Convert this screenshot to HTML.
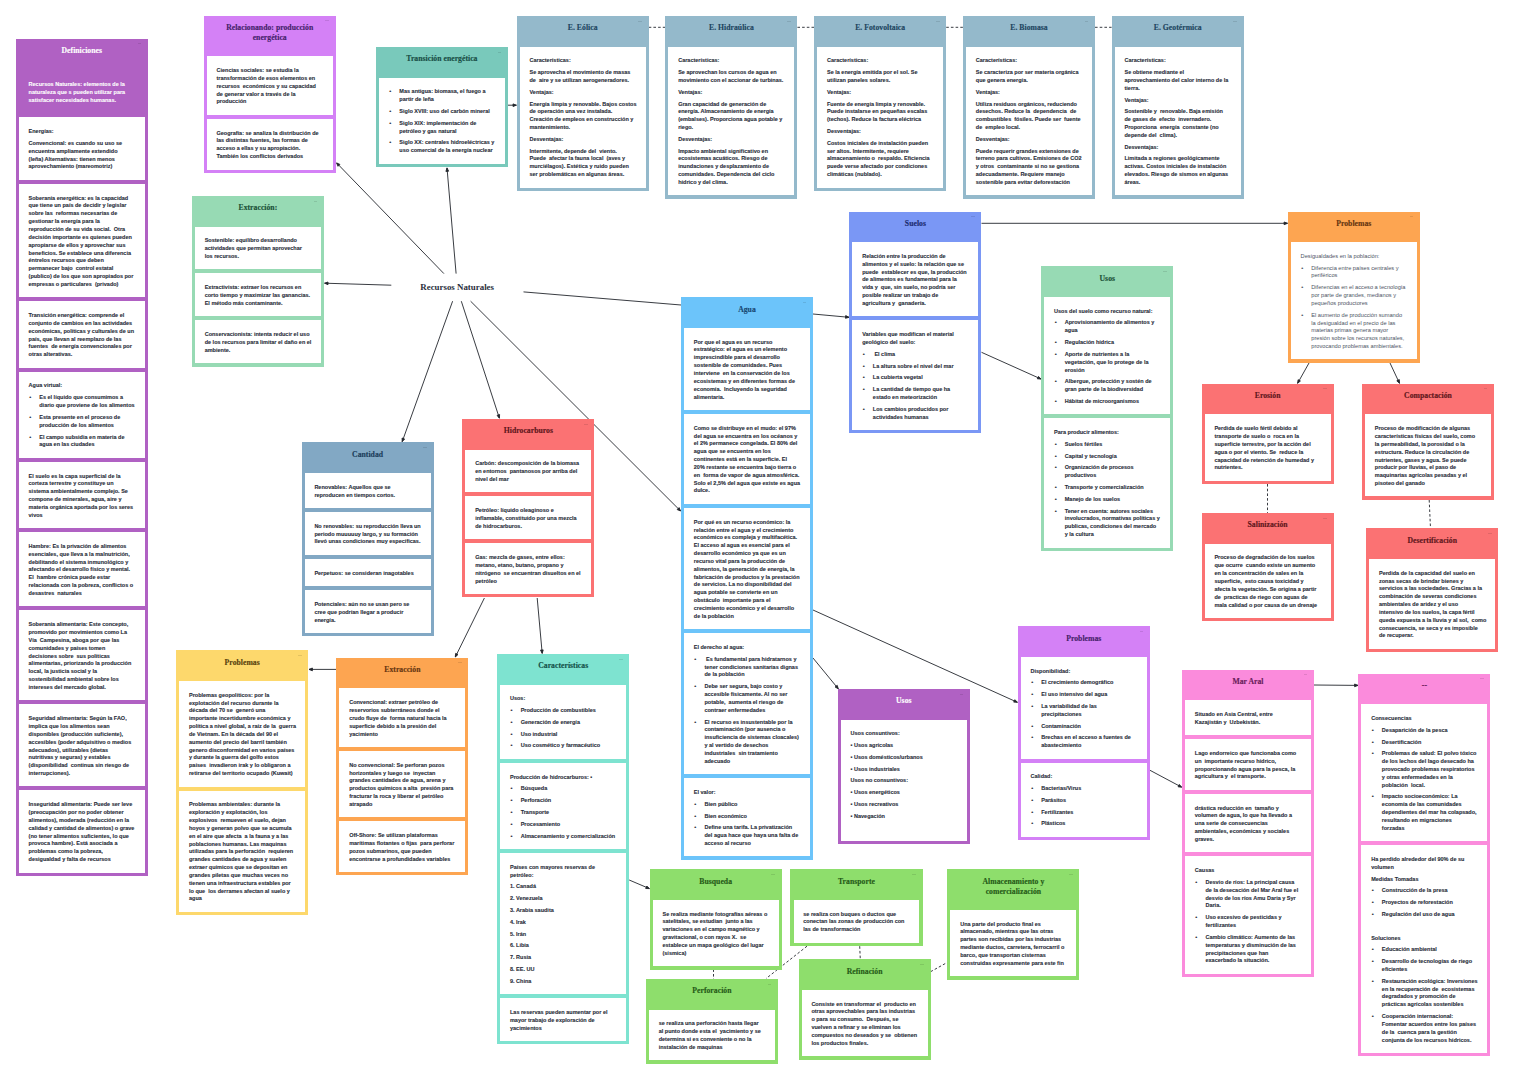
<!DOCTYPE html><html lang="es"><head><meta charset="utf-8"><title>Recursos Naturales</title><style>
html,body{margin:0;padding:0;background:#fff}
body{width:1514px;height:1080px;position:relative;overflow:hidden;font-family:"Liberation Sans",sans-serif}
.card{position:absolute;width:132.2px;box-sizing:border-box;padding:0 3.2px 3.4px;color:#272c38}
.hd{box-sizing:border-box;min-height:30.6px;padding:7.4px 0 13.1px;text-align:center;font:bold 7.7px/10.05px "Liberation Serif",serif;color:rgba(24,28,44,.82);position:relative;white-space:nowrap;-webkit-text-stroke:.14px currentColor;letter-spacing:.03px}
.hd:after{content:"";position:absolute;right:3.6px;top:4.6px;width:3.6px;height:.7px;background:rgba(0,0,0,.1)}
.wt .hd{color:#fff}
.bx{background:#fff;padding:10.75px 9.7px 8.55px;margin-top:4.05px;font-weight:bold;font-size:5.5px;line-height:7.844px;white-space:nowrap;overflow:hidden;-webkit-text-stroke:.1px currentColor}
.hd+.bx{margin-top:0}
.bx.tr{background:transparent;color:#fff;padding-top:11.75px}
.light .bx{-webkit-text-stroke:0;font-weight:normal;color:#4e5565;font-size:5.68px}
p,ul,li{margin:0;padding:0;list-style:none}
p,li{margin-bottom:3.95px}
.bx>:last-child,.bx>ul:last-child>li:last-child{margin-bottom:0}
li{padding-left:10.7px;position:relative}
li:before{content:"•";display:inline-block;box-sizing:border-box;width:10.7px;margin-left:-10.7px;padding-left:.6px;font-size:5.7px;line-height:0;font-weight:normal;-webkit-text-stroke:.2px currentColor}
svg{position:absolute;left:0;top:0}
.c{position:absolute;left:420.3px;top:280.6px;font:bold 8.9px/12px "Liberation Serif",serif;color:#2b2f3d;white-space:nowrap}
</style></head><body>
<svg width="1514" height="1080" viewBox="0 0 1514 1080" fill="#23262c" stroke="#23262c" stroke-width=".9"><line x1="443.9" y1="273.6" x2="336.6" y2="162.9"/><polygon points="336.6,162.9 339.9,164.4 338.0,166.3"/><line x1="456.1" y1="273.6" x2="447.0" y2="167.9"/><polygon points="447.0,167.9 448.6,171.2 445.9,171.4"/><line x1="391.3" y1="285.2" x2="324.6" y2="283.2"/><polygon points="324.6,283.2 328.0,282.0 328.0,284.7"/><line x1="452.6" y1="301.2" x2="402.2" y2="441.7"/><polygon points="402.2,441.7 402.1,438.0 404.6,439.0"/><line x1="461.3" y1="301.2" x2="499.4" y2="418.2"/><polygon points="499.4,418.2 497.1,415.4 499.6,414.5"/><line x1="470.6" y1="301.2" x2="680.6" y2="511.0"/><polygon points="680.6,511.0 677.2,509.6 679.1,507.6"/><line x1="523.5" y1="291.9" x2="681.0" y2="305.0"/><line x1="813.0" y1="314.0" x2="849.0" y2="317.3"/><polygon points="849.0,317.3 845.5,318.3 845.7,315.6"/><line x1="813.0" y1="610.0" x2="1017.4" y2="702.3"/><polygon points="1017.4,702.3 1013.7,702.1 1014.9,699.7"/><line x1="813.0" y1="658.0" x2="838.3" y2="688.8"/><polygon points="838.3,688.8 835.1,687.0 837.2,685.3"/><line x1="981.5" y1="223.3" x2="1287.5" y2="223.3"/><polygon points="1287.5,223.3 1284.1,224.7 1284.1,222.0"/><line x1="981.5" y1="352.3" x2="1041.0" y2="379.0"/><polygon points="1041.0,379.0 1037.3,378.8 1038.5,376.4"/><line x1="1309.0" y1="363.0" x2="1297.6" y2="383.3"/><polygon points="1297.6,383.3 1298.1,379.7 1300.4,381.0"/><line x1="1390.0" y1="363.0" x2="1399.5" y2="383.3"/><polygon points="1399.5,383.3 1396.8,380.8 1399.3,379.6"/><line x1="1150.0" y1="770.3" x2="1181.7" y2="787.2"/><polygon points="1181.7,787.2 1178.1,786.8 1179.3,784.4"/><line x1="1314.0" y1="685.0" x2="1358.0" y2="685.4"/><polygon points="1358.0,685.4 1354.6,686.7 1354.6,684.0"/><line x1="508.0" y1="105.2" x2="516.4" y2="105.2"/><polygon points="516.4,105.2 513.0,106.5 513.0,103.9"/><line x1="484.4" y1="598.0" x2="455.3" y2="657.0"/><polygon points="455.3,657.0 455.6,653.4 458.0,654.5"/><line x1="537.2" y1="598.0" x2="542.2" y2="653.4"/><polygon points="542.2,653.4 540.5,650.1 543.2,649.9"/><line x1="336.0" y1="669.4" x2="309.0" y2="669.4"/><polygon points="309.0,669.4 312.4,668.0 312.4,670.8"/><line x1="629.2" y1="880.0" x2="649.4" y2="888.6"/><polygon points="649.4,888.6 645.7,888.5 646.8,886.0"/><line x1="648.7" y1="27.3" x2="665.3" y2="27.3" stroke-dasharray="2.6 2.1"/><line x1="797.4" y1="27.3" x2="814.1" y2="27.3" stroke-dasharray="2.6 2.1"/><line x1="946.2" y1="27.3" x2="962.9" y2="27.3" stroke-dasharray="2.6 2.1"/><line x1="1095.0" y1="27.3" x2="1111.6" y2="27.3" stroke-dasharray="2.6 2.1"/><line x1="1267.5" y1="484.0" x2="1267.5" y2="513.0" stroke-dasharray="2.6 2.1"/><line x1="1429.2" y1="500.0" x2="1430.5" y2="528.4" stroke-dasharray="2.6 2.1"/><line x1="713.5" y1="969.3" x2="713.5" y2="979.1" stroke-dasharray="2.6 2.1"/><line x1="807.0" y1="946.2" x2="766.0" y2="978.6" stroke-dasharray="2.6 2.1"/><line x1="859.7" y1="946.2" x2="860.3" y2="959.3" stroke-dasharray="2.6 2.1"/><line x1="930.6" y1="971.7" x2="947.3" y2="962.4" stroke-dasharray="2.6 2.1"/></svg>
<div class="c">Recursos Naturales</div>
<div class="card wt" style="left:15.7px;top:38.9px;background:#b061c3"><div class="hd" style="color:#ffffff">Definiciones</div><div class="bx tr"><p>Recursos Naturales: elementos de la<br>naturaleza que s pueden utilizar para<br>satisfacer necesidades humanas.</p></div><div class="bx"><p>Energías:</p><p>Convencional: es cuando su uso se<br>encuentra ampliamente extendido<br>(leña) Alternativas: tienen menos<br>aprovechamiento (mareomotriz)</p></div><div class="bx"><p>Soberanía energética: es la capacidad<br>que tiene un país de decidir y legislar<br>sobre las  reformas necesarias de<br>gestionar la energía para la<br>reproducción de su vida social.  Otra<br>decisión importante es quienes pueden<br>apropiarse de ellos y aprovechar sus<br>beneficios. Se establece una diferencia<br>éntrelos recursos que deben<br>permanecer bajo  control estatal<br>(publico) de los que son apropiados por<br>empresas o particulares  (privado)</p></div><div class="bx"><p>Transición energética: comprende el<br>conjunto de cambios en las actividades<br>económicas, políticas y culturales de un<br>país, que llevan al reemplazo de las<br>fuentes  de energía convencionales por<br>otras alterativas.</p></div><div class="bx"><p>Agua virtual:</p><ul><li>Es el líquido que consumimos a<br>diario que proviene de los alimentos</li><li>Esta presente en el proceso de<br>producción de los alimentos</li><li>El campo subsidia en materia de<br>agua en las ciudades</li></ul></div><div class="bx"><p>El suelo es la capa superficial de la<br>corteza terrestre y constituye un<br>sistema ambientalmente complejo. Se<br>compone de minerales, agua, aire y<br>materia orgánica aportada por los seres<br>vivos</p></div><div class="bx"><p>Hambre: Es la privación de alimentos<br>esenciales, que lleva a la malnutrición,<br>debilitando el sistema inmunológico y<br>afectando el desarrollo físico y mental.<br>El  hambre crónica puede estar<br>relacionada con la pobreza, conflictos o<br>desastres  naturales</p></div><div class="bx"><p>Soberanía alimentaria: Este concepto,<br>promovido por movimientos como La<br>Vía  Campesina, aboga por que las<br>comunidades y países tomen<br>decisiones sobre  sus políticas<br>alimentarias, priorizando la producción<br>local, la justicia social y la<br>sostenibilidad ambiental sobre los<br>intereses del mercado global.</p></div><div class="bx"><p>Seguridad alimentaria: Según la FAO,<br>implica que los alimentos sean<br>disponibles (producción suficiente),<br>accesibles (poder adquisitivo o medios<br>adecuados), utilizables (dietas<br>nutritivas y seguras) y estables<br>(disponibilidad  continua sin riesgo de<br>interrupciones).</p></div><div class="bx"><p>Inseguridad alimentaria: Puede ser leve<br>(preocupación por no poder obtener<br>alimentos), moderada (reducción en la<br>calidad y cantidad de alimentos) o grave<br>(no tener alimentos suficientes, lo que<br>provoca hambre). Está asociada a<br>problemas como la pobreza,<br>desigualdad y falta de recursos</p></div></div>
<div class="card" style="left:203.6px;top:15.7px;background:#d481f6"><div class="hd" style="color:#451f6b">Relacionando: producción<br>energética</div><div class="bx"><p>Ciencias sociales: se estudia la<br>transformación de esos elementos en<br>recursos  económicos y su capacidad<br>de generar valor a través de la<br>producción</p></div><div class="bx"><p>Geografía: se analiza la distribución de<br>las distintas fuentes, las formas de<br>acceso a ellas y su apropiación.<br>También los conflictos derivados</p></div></div>
<div class="card" style="left:375.8px;top:47.0px;background:#79c9bb"><div class="hd" style="color:#184d45">Transición energética</div><div class="bx"><ul><li>Mas antigua: biomasa, el fuego a<br>partir de leña</li><li>Siglo XVIII: uso del carbón mineral</li><li>Siglo XIX: implementación de<br>petróleo y gas natural</li><li>Siglo XX: centrales hidroeléctricas y<br>uso comercial de la energía nuclear</li></ul></div></div>
<div class="card" style="left:516.6px;top:16.0px;background:#94b9cb"><div class="hd" style="color:#1d4560">E. Eólica</div><div class="bx"><p>Características:</p><p>Se aprovecha el movimiento de masas<br>de  aire y se utilizan aerogeneradores.</p><p>Ventajas:</p><p>Energía limpia y renovable. Bajos costos<br>de operación una vez instalada.<br>Creación de empleos en construcción y<br>mantenimiento.</p><p>Desventajas:</p><p>Intermitente, depende del  viento.<br>Puede  afectar la fauna local  (aves y<br>murciélagos). Estética y ruido pueden<br>ser problemáticas en algunas áreas.</p></div></div>
<div class="card" style="left:665.3px;top:16.0px;background:#94b9cb"><div class="hd" style="color:#1d4560">E. Hidraúlica</div><div class="bx"><p>Características:</p><p>Se aprovechan los cursos de agua en<br>movimiento con el accionar de turbinas.</p><p>Ventajas:</p><p>Gran capacidad de generación de<br>energía. Almacenamiento de energía<br>(embalses). Proporciona agua potable y<br>riego.</p><p>Desventajas:</p><p>Impacto ambiental significativo en<br>ecosistemas acuáticos. Riesgo de<br>inundaciones y desplazamiento de<br>comunidades. Dependencia del ciclo<br>hídrico y del clima.</p></div></div>
<div class="card" style="left:814.1px;top:16.0px;background:#94b9cb"><div class="hd" style="color:#1d4560">E. Fotovoltaica</div><div class="bx"><p>Características:</p><p>Se la energía emitida por el sol. Se<br>utilizan paneles solares.</p><p>Ventajas:</p><p>Fuente de energía limpia y renovable.<br>Puede instalarse en pequeñas escalas<br>(techos). Reduce la factura eléctrica</p><p>Desventajas:</p><p>Costos iniciales de instalación pueden<br>ser altos. Intermitente, requiere<br>almacenamiento o  respaldo. Eficiencia<br>puede verse afectado por condiciones<br>climáticas (nublado).</p></div></div>
<div class="card" style="left:962.9px;top:16.0px;background:#94b9cb"><div class="hd" style="color:#1d4560">E. Biomasa</div><div class="bx"><p>Características:</p><p>Se caracteriza por ser materia orgánica<br>que genera energía.</p><p>Ventajas:</p><p>Utiliza residuos orgánicos, reduciendo<br>desechos. Reduce la  dependencia  de<br>combustibles  fósiles. Puede ser  fuente<br>de  empleo local.</p><p>Desventajas:</p><p>Puede requerir grandes extensiones de<br>terreno para cultivos. Emisiones de CO2<br>y otros  contaminante si no se gestiona<br>adecuadamente. Requiere manejo<br>sostenible para evitar deforestación</p></div></div>
<div class="card" style="left:1111.6px;top:16.0px;background:#94b9cb"><div class="hd" style="color:#1d4560">E. Geotérmica</div><div class="bx"><p>Características:</p><p>Se obtiene mediante el<br>aprovechamiento del calor interno de la<br>tierra.</p><p>Ventajas:</p><p>Sostenible y  renovable. Baja emisión<br>de gases de  efecto  invernadero.<br>Proporciona  energía  constante (no<br>depende del  clima).</p><p>Desventajas:</p><p>Limitada a regiones geológicamente<br>activas. Costos iniciales de instalación<br>elevados. Riesgo de sismos en algunas<br>áreas.</p></div></div>
<div class="card" style="left:191.8px;top:196.0px;background:#97dab4"><div class="hd" style="color:#1a5037">Extracción:</div><div class="bx"><p>Sostenible: equilibro desarrollando<br>actividades que permitan aprovechar<br>los recursos.</p></div><div class="bx"><p>Extractivista: extraer los recursos en<br>corto tiempo y maximizar las ganancias.<br>El método más contaminante.</p></div><div class="bx"><p>Conservacionista: intenta reducir el uso<br>de los recursos para limitar el daño en el<br>ambiente.</p></div></div>
<div class="card" style="left:301.5px;top:442.4px;background:#82a8c4"><div class="hd" style="color:#1b3d5b">Cantidad</div><div class="bx"><p>Renovables: Aquellos que se<br>reproducen en tiempos cortos.</p></div><div class="bx"><p>No renovables: su reproducción lleva un<br>periodo muuuuuy largo, y su formación<br>llevó unas condiciones muy específicas.</p></div><div class="bx"><p>Perpetuos: se consideran inagotables</p></div><div class="bx"><p>Potenciales: aún no se usan pero se<br>cree que podrían llegar a producir<br>energía.</p></div></div>
<div class="card" style="left:462.3px;top:419.0px;background:#fb7273"><div class="hd" style="color:#5e161b">Hidrocarburos</div><div class="bx"><p>Carbón: descomposición de la biomasa<br>en entornos  pantanosos por arriba del<br>nivel del mar</p></div><div class="bx"><p>Petróleo: líquido oleaginoso e<br>inflamable, constituido por una mezcla<br>de hidrocarburos.</p></div><div class="bx"><p>Gas: mezcla de gases, entre ellos:<br>metano, etano, butano, propano y<br>nitrógeno  se encuentran disueltos en el<br>petróleo</p></div></div>
<div class="card" style="left:680.9px;top:297.3px;background:#6cc4fa"><div class="hd" style="color:#174872">Agua</div><div class="bx"><p>Por que el agua es un recurso<br>estratégico: el agua es un elemento<br>imprescindible para el desarrollo<br>sostenible de comunidades. Pues<br>interviene  en la conservación de los<br>ecosistemas y en diferentes formas de<br>economía.  Incluyendo la seguridad<br>alimentaria.</p></div><div class="bx"><p>Como se distribuye en el mudo: el 97%<br>del agua se encuentra en los océanos y<br>el 2% permanece congelada. El 80% del<br>agua que se encuentra en los<br>continentes está en la superficie. El<br>20% restante se encuentra bajo tierra o<br>en  forma de vapor de agua atmosférica.<br>Solo el 2,5% del agua que existe es agua<br>dulce.</p></div><div class="bx"><p>Por qué es un recurso económico: la<br>relación entre el agua y el crecimiento<br>económico es compleja y multifacética.<br>El acceso al agua es esencial para el<br>desarrollo económico ya que es un<br>recurso vital para la producción de<br>alimentos, la generación de energía, la<br>fabricación de productos y la prestación<br>de servicios. La no disponibilidad del<br>agua potable se convierte en un<br>obstáculo  importante para el<br>crecimiento económico y el desarrollo<br>de la población</p></div><div class="bx"><p>El derecho al agua:</p><ul><li> Es fundamental para hidratarnos y<br>tener condiciones sanitarias dignas<br>de la población</li><li>Debe ser segura, bajo costo y<br>accesible físicamente. Al no ser<br>potable,  aumenta el riesgo de<br>contraer enfermedades</li><li>El recurso es insustentable por la<br>contaminación (por ausencia o<br>insuficiencia de sistemas cloacales)<br>y al vertido de desechos<br>industriales  sin tratamiento<br>adecuado</li></ul></div><div class="bx"><p>El valor:</p><ul><li>Bien público</li><li>Bien económico</li><li>Define una tarifa. La privatización<br>del agua hace que haya una falta de<br>acceso al recurso</li></ul></div></div>
<div class="card" style="left:849.3px;top:211.6px;background:#7a97f5"><div class="hd" style="color:#1c2c70">Suelos</div><div class="bx"><p>Relación entre la producción de<br>alimentos y el suelo: la relación que se<br>puede  establecer es que, la producción<br>de alimentos es fundamental para la<br>vida y  que, sin suelo, no podría ser<br>posible realizar un trabajo de<br>agricultura y  ganadería.</p></div><div class="bx"><p>Variables que modifican el material<br>geológico del suelo:</p><ul><li> El clima</li><li>La altura sobre el nivel del mar</li><li>La cubierta vegetal</li><li>La cantidad de tiempo que ha<br>estado en meteorización</li><li>Los cambios producidos por<br>actividades humanas</li></ul></div></div>
<div class="card" style="left:1041.2px;top:266.3px;background:#97dab4"><div class="hd" style="color:#1a5037">Usos</div><div class="bx"><p>Usos del suelo como recurso natural:</p><ul><li>Aprovisionamiento de alimentos y<br>agua</li><li>Regulación hídrica</li><li>Aporte de nutrientes a la<br>vegetación, que lo protege de la<br>erosión</li><li>Albergue, protección y sostén de<br>gran parte de la biodiversidad</li><li>Hábitat de microorganismos</li></ul></div><div class="bx"><p>Para producir alimentos:</p><ul><li>Suelos fértiles</li><li>Capital y tecnología</li><li>Organización de procesos<br>productivos</li><li>Transporte y comercialización</li><li>Manejo de los suelos</li><li>Tener en cuenta: autores sociales<br>involucrados, normativas políticas y<br>publicas, condiciones del mercado<br>y la cultura</li></ul></div></div>
<div class="card light" style="left:1287.7px;top:211.5px;background:#fda551"><div class="hd" style="color:#653510">Problemas</div><div class="bx"><p>Desigualdades en la población:</p><ul><li>Diferencia entre países centrales y<br>periféricos</li><li>Diferencias en el acceso a tecnología<br>por parte de grandes, medianos y<br>pequeños productores</li><li>El aumento de producción sumando<br>la desigualdad en el precio de las<br>materias primas genera mayor<br>presión sobre los recursos naturales,<br>provocando problemas ambientales.</li></ul></div></div>
<div class="card" style="left:1201.5px;top:383.8px;background:#fb7273"><div class="hd" style="color:#5e161b">Erosión</div><div class="bx"><p>Perdida de suelo fértil debido al<br>transporte de suelo o  roca en la<br>superficie terrestre, por la acción del<br>agua o por el viento. Se  reduce la<br>capacidad de retención de humedad y<br>nutrientes.</p></div></div>
<div class="card" style="left:1361.9px;top:383.8px;background:#fb7273"><div class="hd" style="color:#5e161b">Compactación</div><div class="bx"><p>Proceso de modificación de algunas<br>características físicas del suelo, como<br>la permeabilidad, la porosidad o la<br>estructura. Reduce la circulación de<br>nutrientes, gases y agua. Se puede<br>producir por lluvias, el paso de<br>maquinarias agrícolas pesadas y el<br>pisoteo del ganado</p></div></div>
<div class="card" style="left:1201.5px;top:513.1px;background:#fb7273"><div class="hd" style="color:#5e161b">Salinización</div><div class="bx"><p>Proceso de degradación de los suelos<br>que ocurre  cuando existe un aumento<br>en la concentración de sales en la<br>superficie,  esto causa toxicidad y<br>afecta la vegetación. Se origina a partir<br>de  practicas de riego con aguas de<br>mala calidad o por causa de un drenaje</p></div></div>
<div class="card" style="left:1366.1px;top:528.4px;background:#fb7273"><div class="hd" style="color:#5e161b">Desertificación</div><div class="bx"><p>Perdida de la capacidad del suelo en<br>zonas secas de brindar bienes y<br>servicios a las sociedades. Gracias a la<br>combinación de severas condiciones<br>ambientales de aridez y el uso<br>intensivo de los suelos, la capa fértil<br>queda expuesta a la lluvia y al sol,  como<br>consecuencia, se seca y es imposible<br>de recuperar.</p></div></div>
<div class="card" style="left:176.1px;top:650.4px;background:#fdd86c"><div class="hd" style="color:#58420e">Problemas</div><div class="bx"><p>Problemas geopolíticos: por la<br>explotación del recurso durante la<br>década del 70 se  generó una<br>importante incertidumbre económica y<br>política a nivel global, a raíz de la  guerra<br>de Vietnam. En la década del 90 el<br>aumento del precio del barril también<br>genero disconformidad en varios países<br>y durante la guerra del golfo estos<br>países  invadieron irak y lo obligaron a<br>retirarse del territorio ocupado (Kuwait)</p></div><div class="bx"><p>Problemas ambientales: durante la<br>exploración y explotación, los<br>explosivos  remueven el suelo, dejan<br>hoyos y generan polvo que se acumula<br>en el aire que afecta  a la fauna y a las<br>poblaciones humanas. Las maquinas<br>utilizadas para la perforación  requieren<br>grandes cantidades de agua y suelen<br>extraer químicos que se depositan en<br>grandes piletas que muchas veces no<br>tienen una infraestructura estables por<br>lo que  los derrames afectan al suelo y<br>agua</p></div></div>
<div class="card" style="left:336.3px;top:657.8px;background:#fda551"><div class="hd" style="color:#653510">Extracción</div><div class="bx"><p>Convencional: extraer petróleo de<br>reservorios subterráneos donde el<br>crudo fluye de  forma natural hacia la<br>superficie debido a la presión del<br>yacimiento</p></div><div class="bx"><p>No convencional: Se perforan pozos<br>horizontales y luego se  inyectan<br>grandes cantidades de agua, arena y<br>productos químicos a alta  presión para<br>fracturar la roca y liberar el petróleo<br>atrapado</p></div><div class="bx"><p>Off-Shore: Se utilizan plataformas<br>marítimas flotantes o fijas  para perforar<br>pozos submarinos, que pueden<br>encontrarse a profundidades variables</p></div></div>
<div class="card" style="left:497.1px;top:654.0px;background:#7ee3d0"><div class="hd" style="color:#135048">Características</div><div class="bx"><p>Usos:</p><ul><li>Producción de combustibles</li><li>Generación de energía</li><li>Uso industrial</li><li>Uso cosmético y farmacéutico</li></ul></div><div class="bx"><p>Producción de hidrocarburos: •</p><ul><li>Búsqueda</li><li>Perforación</li><li>Transporte</li><li>Procesamiento</li><li>Almacenamiento y comercialización</li></ul></div><div class="bx"><p>Países con mayores reservas de<br>petróleo:</p><p>1. Canadá</p><p>2. Venezuela</p><p>3. Arabia saudita</p><p>4. Irak</p><p>5. Irán</p><p>6. Libia</p><p>7. Rusia</p><p>8. EE. UU</p><p>9. China</p></div><div class="bx"><p>Las reservas pueden aumentar por el<br>mayor trabajo de exploración de<br>yacimientos</p></div></div>
<div class="card wt" style="left:837.7px;top:689.0px;background:#b061c3"><div class="hd" style="color:#ffffff">Usos</div><div class="bx"><p>Usos consuntivos:</p><p>• Usos agrícolas</p><p>• Usos domésticos/urbanos</p><p>• Usos industriales</p><p>Usos no consuntivos:</p><p>• Usos energéticos</p><p>• Usos recreativos</p><p>• Navegación</p><p> </p></div></div>
<div class="card" style="left:1017.7px;top:626.2px;background:#d481f6"><div class="hd" style="color:#451f6b">Problemas</div><div class="bx"><p>Disponibilidad:</p><ul><li>El crecimiento demográfico</li><li>El uso intensivo del agua</li><li>La variabilidad de las<br>precipitaciones</li><li>Contaminación</li><li>Brechas en el acceso a fuentes de<br>abastecimiento</li></ul></div><div class="bx"><p>Calidad:</p><ul><li>Bacterias/Virus</li><li>Parásitos</li><li>Fertilizantes</li><li>Plásticos</li></ul></div></div>
<div class="card" style="left:1181.9px;top:669.5px;background:#fb8bdc"><div class="hd" style="color:#681c59">Mar Aral</div><div class="bx"><p>Situado en Asia Central, entre<br>Kazajistán y  Uzbekistán.</p></div><div class="bx"><p>Lago endorreico que funcionaba como<br>un  importante recurso hídrico,<br>proporcionando agua para la pesca, la<br>agricultura y  el transporte.</p></div><div class="bx"><p>drástica reducción en  tamaño y<br>volumen de agua, lo que ha llevado a<br>una serie de consecuencias<br>ambientales, económicas y sociales<br>graves.</p></div><div class="bx"><p>Causas</p><ul><li>Desvío de ríos: La principal causa<br>de la desecación del Mar Aral fue el<br>desvío de los ríos Amu Daria y Syr<br>Daria.</li><li>Uso excesivo de pesticidas y<br>fertilizantes</li><li>Cambio climático: Aumento de las<br>temperaturas y disminución de las<br>precipitaciones que han<br>exacerbado la situación.</li></ul></div></div>
<div class="card" style="left:1358.3px;top:673.6px;background:#fb8bdc"><div class="hd" style="color:#681c59">--</div><div class="bx"><p>Consecuencias</p><ul><li>Desaparición de la pesca</li><li>Desertificación</li><li>Problemas de salud: El polvo tóxico<br>de los lechos del lago desecado ha<br>provocado problemas respiratorios<br>y otras enfermedades en la<br>población  local.</li><li>Impacto socioeconómico: La<br>economía de las comunidades<br>dependientes del mar ha colapsado,<br>resultando en migraciones<br>forzadas</li></ul></div><div class="bx"><p>Ha perdido alrededor del 90% de su<br>volumen</p><p>Medidas Tomadas</p><ul><li>Construcción de la presa</li><li>Proyectos de reforestación</li><li>Regulación del uso de agua</li></ul><p> </p><p>Soluciones</p><ul><li>Educación ambiental</li><li>Desarrollo de tecnologías de riego<br>eficientes</li><li>Restauración ecológica: Inversiones<br>en la recuperación de  ecosistemas<br>degradados y promoción de<br>prácticas agrícolas sostenibles</li><li>Cooperación internacional:<br>Fomentar acuerdos entre los países<br>de la  cuenca para la gestión<br>conjunta de los recursos hídricos.</li></ul></div></div>
<div class="card" style="left:649.6px;top:869.2px;background:#8ede6c"><div class="hd" style="color:#255a17">Busqueda</div><div class="bx"><p>Se realiza mediante fotografías aéreas o<br>satelitales, se estudian  junto a las<br>variaciones en el campo magnético y<br>gravitacional, o con rayos X.  se<br>establece un mapa geológico del lugar<br>(sísmica)</p></div></div>
<div class="card" style="left:790.4px;top:869.2px;background:#8ede6c"><div class="hd" style="color:#255a17">Transporte</div><div class="bx"><p>se realiza con buques o ductos que<br>conectan las zonas de producción con<br>las de transformación</p></div></div>
<div class="card" style="left:947.3px;top:869.2px;background:#8ede6c"><div class="hd" style="color:#255a17">Almacenamiento y<br>comercialización</div><div class="bx"><p>Una parte del producto final es<br>almacenado, mientras que las otras<br>partes son recibidas por las industrias<br>mediante ductos, carretera, ferrocarril o<br>barco, que transportan cisternas<br>construidas expresamente para este fin</p></div></div>
<div class="card" style="left:645.8px;top:979.1px;background:#8ede6c"><div class="hd" style="color:#255a17">Perforación</div><div class="bx"><p>se realiza una perforación hasta llegar<br>al punto donde esta el  yacimiento y se<br>determina si es conveniente o no la<br>instalación de maquinas</p></div></div>
<div class="card" style="left:798.5px;top:959.3px;background:#8ede6c"><div class="hd" style="color:#255a17">Refinación</div><div class="bx"><p>Consiste en transformar el  producto en<br>otras aprovechables para las industrias<br>o para su consumo.  Después, se<br>vuelven a refinar y se eliminan los<br>compuestos no deseados y se  obtienen<br>los productos finales.</p></div></div>
</body></html>
